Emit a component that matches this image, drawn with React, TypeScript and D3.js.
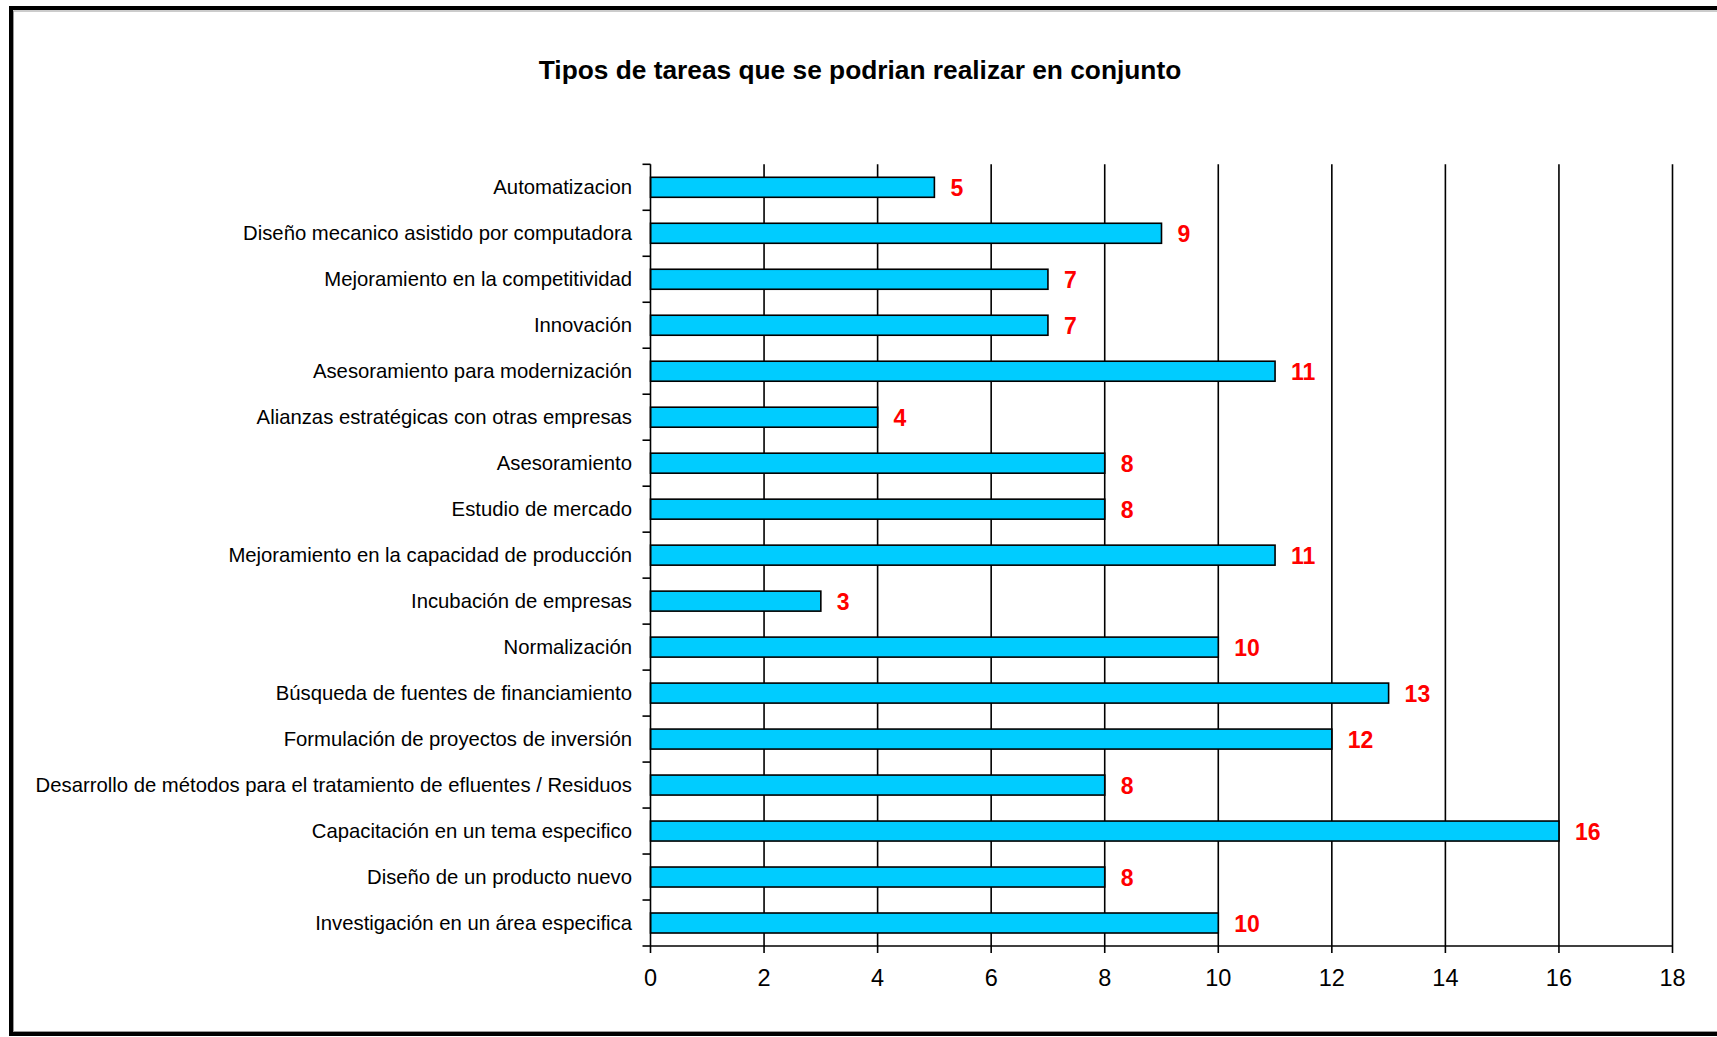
import React from "react";
import * as d3 from "d3";

const categories = [
  "Automatizacion",
  "Diseño mecanico asistido por computadora",
  "Mejoramiento en la competitividad",
  "Innovación",
  "Asesoramiento para modernización",
  "Alianzas estratégicas con otras empresas",
  "Asesoramiento",
  "Estudio de mercado",
  "Mejoramiento en la capacidad de producción",
  "Incubación de empresas",
  "Normalización",
  "Búsqueda de fuentes de financiamiento",
  "Formulación de proyectos de inversión",
  "Desarrollo de métodos para el tratamiento de efluentes / Residuos",
  "Capacitación en un tema especifico",
  "Diseño de un producto nuevo",
  "Investigación en un área especifica",
];
const values = [5, 9, 7, 7, 11, 4, 8, 8, 11, 3, 10, 13, 12, 8, 16, 8, 10];
const xTicks = [0, 2, 4, 6, 8, 10, 12, 14, 16, 18];
const title = "Tipos de tareas que se podrian realizar en conjunto";

const W = 1717;
const H = 1037;
const left = 650.5;
const right = 1672.5;
const top = 164.3;
const bottom = 946;

export default function App() {
  const x = d3.scaleLinear().domain([0, 18]).range([left, right]);
  const y = d3
    .scaleBand<string>()
    .domain(categories)
    .range([top, bottom])
    .paddingInner(0.565)
    .paddingOuter(0.2825);
  const band = (bottom - top) / categories.length;
  const font = "'Liberation Sans', Arial, sans-serif";
  return (
    <svg
      width={W}
      height={H}
      style={{ position: "absolute", left: 0, top: 0, background: "#fff" }}
    >
      <rect x={0} y={0} width={W} height={H} fill="#fff" />
      <rect x={11} y={8} width={W + 20} height={1026} fill="none" stroke="#000" strokeWidth={4} />
      <rect x={13.5} y={11} width={W + 20} height={1020.5} fill="none" stroke="#999" strokeWidth={1} />
      <text
        x={860}
        y={79}
        textAnchor="middle"
        fontFamily={font}
        fontWeight="bold"
        fontSize={26.3}
        fill="#000"
      >
        {title}
      </text>
      {/* gridlines */}
      {xTicks.slice(1).map((t) => (
        <line key={"g" + t} x1={x(t)} x2={x(t)} y1={top} y2={bottom} stroke="#000" strokeWidth={1.6} />
      ))}
      {/* bars */}
      {categories.map((c, i) => (
        <g key={c}>
          <rect
            x={x(0)}
            y={y(c)}
            width={x(values[i]) - x(0)}
            height={y.bandwidth()}
            fill="#00CCFF"
            stroke="#000"
            strokeWidth={1.6}
          />
          <text
            x={x(values[i]) + 16}
            y={(y(c) as number) + y.bandwidth() / 2 + 8.5}
            fontFamily={font}
            fontWeight="bold"
            fontSize={23}
            fill="#FF0000"
          >
            {values[i]}
          </text>
          <text
            x={632}
            y={(y(c) as number) + y.bandwidth() / 2 + 7}
            textAnchor="end"
            fontFamily={font}
            fontSize={20.3}
            fill="#000"
          >
            {c}
          </text>
        </g>
      ))}
      {/* y axis */}
      <line x1={left} x2={left} y1={top} y2={bottom} stroke="#000" strokeWidth={1.6} />
      {d3.range(categories.length + 1).map((i) => (
        <line
          key={"yt" + i}
          x1={left - 8}
          x2={left}
          y1={top + i * band}
          y2={top + i * band}
          stroke="#000"
          strokeWidth={1.6}
        />
      ))}
      {/* x axis */}
      <line x1={left} x2={right} y1={bottom} y2={bottom} stroke="#000" strokeWidth={1.6} />
      {xTicks.map((t) => (
        <g key={"xt" + t}>
          <line x1={x(t)} x2={x(t)} y1={bottom} y2={bottom + 7} stroke="#000" strokeWidth={1.6} />
          <text
            x={x(t)}
            y={bottom + 40}
            textAnchor="middle"
            fontFamily={font}
            fontSize={23.5}
            fill="#000"
          >
            {t}
          </text>
        </g>
      ))}
    </svg>
  );
}
